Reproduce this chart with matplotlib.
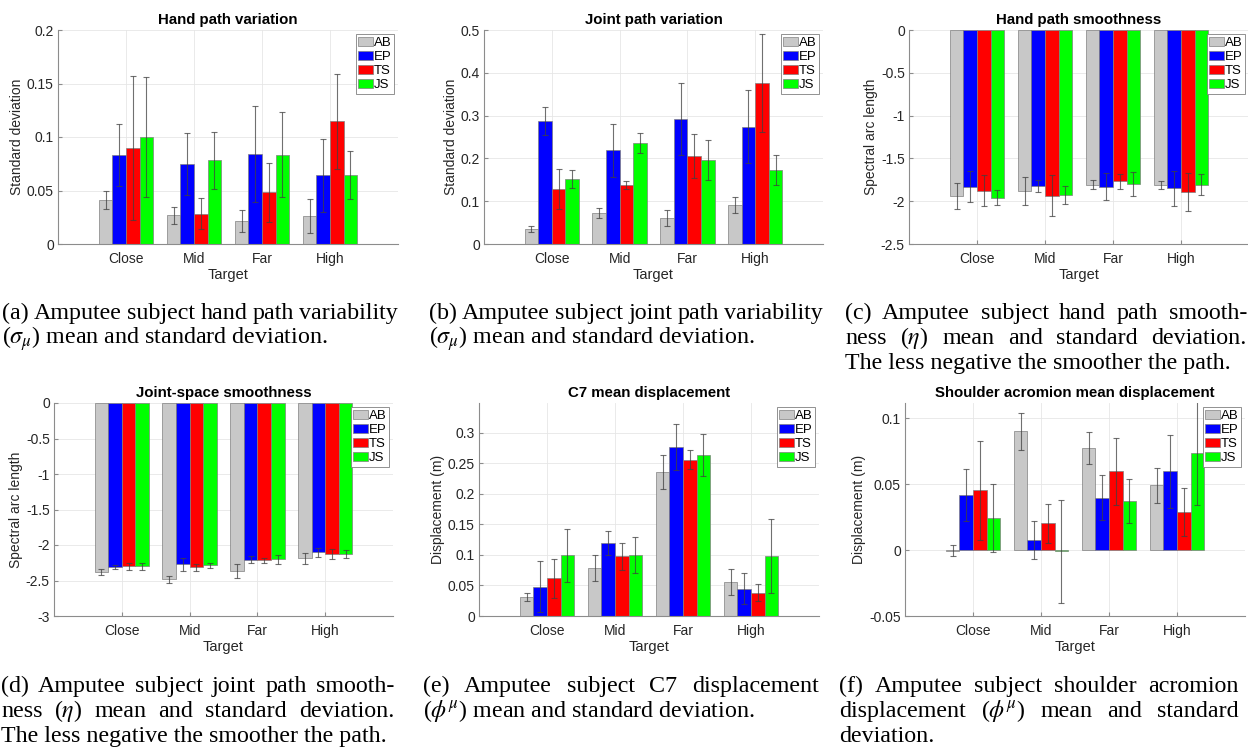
import matplotlib
matplotlib.use("Agg")
import matplotlib.pyplot as plt
import numpy as np
from matplotlib.patches import Patch
from matplotlib.ticker import FormatStrFormatter

W, H = 1248, 748

targets = ["Close", "Mid", "Far", "High"]
series = ["AB", "EP", "TS", "JS"]
colors = ["#c8c8c8", "#0000ff", "#ff0000", "#00ff00"]

# (a) hand path variation, rows = AB, EP, TS, JS
hand_var_mean = [[0.041, 0.0267, 0.0218, 0.0261],
                 [0.083, 0.0747, 0.0843, 0.0641],
                 [0.0896, 0.0283, 0.0485, 0.1148],
                 [0.0998, 0.0784, 0.0834, 0.0644]]
hand_var_std = [[0.0085, 0.008, 0.0104, 0.016],
                [0.029, 0.029, 0.045, 0.034],
                [0.067, 0.0143, 0.0275, 0.0443],
                [0.056, 0.0266, 0.0395, 0.0224]]

# (b) joint path variation
joint_var_mean = [[0.0358, 0.0723, 0.0614, 0.0918],
                  [0.287, 0.2185, 0.2916, 0.2745],
                  [0.129, 0.1376, 0.206, 0.3756],
                  [0.152, 0.2356, 0.196, 0.1726]]
joint_var_std = [[0.0074, 0.011, 0.019, 0.019],
                 [0.033, 0.061, 0.084, 0.086],
                 [0.047, 0.009, 0.051, 0.115],
                 [0.022, 0.024, 0.047, 0.035]]

# (c) hand path smoothness
hand_smooth_mean = [[-1.938, -1.880, -1.81, -1.81],
                    [-1.829, -1.821, -1.829, -1.849],
                    [-1.876, -1.938, -1.767, -1.892],
                    [-1.962, -1.927, -1.798, -1.806]]
hand_smooth_std = [[0.156, 0.16, 0.053, 0.048],
                   [0.185, 0.072, 0.156, 0.203],
                   [0.18, 0.24, 0.09, 0.218],
                   [0.088, 0.107, 0.137, 0.123]]

# (d) joint-space smoothness
joint_smooth_mean = [[-2.386, -2.48, -2.363, -2.189],
                     [-2.311, -2.274, -2.208, -2.105],
                     [-2.297, -2.316, -2.218, -2.128],
                     [-2.302, -2.283, -2.203, -2.128]]
joint_smooth_std = [[0.042, 0.05, 0.096, 0.073],
                    [0.03, 0.089, 0.05, 0.068],
                    [0.05, 0.047, 0.033, 0.075],
                    [0.045, 0.036, 0.063, 0.059]]

# (e) C7 mean displacement
c7_mean = [[0.0311, 0.0787, 0.236, 0.0557],
           [0.0481, 0.1191, 0.277, 0.0443],
           [0.0617, 0.0978, 0.2563, 0.0383],
           [0.0995, 0.100, 0.264, 0.0978]]
c7_std = [[0.0066, 0.021, 0.0276, 0.0216],
          [0.042, 0.0197, 0.038, 0.0254],
          [0.0317, 0.0224, 0.0155, 0.0145],
          [0.043, 0.0295, 0.035, 0.0607]]

# (f) shoulder acromion mean displacement
acr_mean = [[-0.0003, 0.0901, 0.0775, 0.0494],
            [0.0418, 0.0076, 0.0397, 0.060],
            [0.0453, 0.0203, 0.0597, 0.0289],
            [0.0243, -0.0008, 0.0375, 0.0734]]
acr_std = [[0.0043, 0.0138, 0.012, 0.0133],
           [0.020, 0.0146, 0.017, 0.0277],
           [0.0378, 0.0146, 0.0257, 0.018],
           [0.0258, 0.039, 0.0167, 0.0395]]

SANS = "Liberation Sans"
SERIF = "Liberation Serif"
plt.rcParams["mathtext.fontset"] = "stix"


def px_axes(fig, l, r, t, b):
    return fig.add_axes([l / W, 1 - b / H, (r - l) / W, (b - t) / H])


def panel(ax, title, ylabel, means, stds, ylim, yticks):
    x = np.arange(1, len(targets) + 1)
    bw = 0.2
    for i, s in enumerate(series):
        xs = x + (i - 1.5) * bw
        ax.bar(xs, means[i], bw, color=colors[i], edgecolor="#808080",
               lw=0.5, label=s, zorder=2)
        ax.errorbar(xs, means[i], yerr=stds[i], fmt="none", ecolor="#404040",
                    elinewidth=0.8, capsize=2, capthick=0.8, alpha=0.75, zorder=3)
    ax.set_xlim(0, 5)
    ax.set_ylim(*ylim)
    ax.set_yticks(yticks)
    ax.yaxis.set_major_formatter(FormatStrFormatter("%g"))
    ax.set_xticks(x)
    ax.set_xticklabels(targets)
    ax.grid(True, color="#e6e6e6", lw=0.6, zorder=0)
    ax.set_axisbelow(True)
    for sp in ("top", "right"):
        ax.spines[sp].set_visible(False)
    for sp in ("left", "bottom"):
        ax.spines[sp].set_color("#8c8c8c")
        ax.spines[sp].set_linewidth(0.8)
    ax.tick_params(direction="in", length=3, color="#8c8c8c", labelsize=10,
                   labelcolor="#262626", pad=3)
    ax.tick_params(axis="x", pad=6)
    for lab in ax.get_xticklabels() + ax.get_yticklabels():
        lab.set_family(SANS)
    ax.set_title(title, fontsize=10.8, fontweight="bold", family=SANS, pad=4)
    ax.set_xlabel("Target", fontsize=10.5, family=SANS, color="#262626", labelpad=1)
    ax.set_ylabel(ylabel, fontsize=10, family=SANS, color="#262626", labelpad=2)
    handles = [Patch(facecolor=c, edgecolor="#808080", lw=0.5) for c in colors]
    leg = ax.legend(handles, series, loc="upper right",
                    prop={"family": SANS, "size": 9.5}, fancybox=False,
                    handlelength=1.1, handleheight=0.75, handletextpad=0.05,
                    labelspacing=0.12, borderpad=0.2, borderaxespad=0.3,
                    framealpha=1)
    leg.get_frame().set_edgecolor("#808080")
    leg.get_frame().set_linewidth(0.6)


def caption(fig, x0, x1, y, lines, size=17.3):
    # justified caption lines, last line left-aligned
    r = fig.canvas.get_renderer()
    for k, line in enumerate(lines):
        yy = 1 - (y + 25 * k) / H
        words = line.split(" ")
        if k == len(lines) - 1 or len(words) == 1:
            fig.text(x0 / W, yy, line, family=SERIF, fontsize=size, va="baseline")
            continue
        objs = [fig.text(0, yy, w_, family=SERIF, fontsize=size, va="baseline")
                for w_ in words]
        widths = [o.get_window_extent(r).width for o in objs]
        gap = (x1 - x0 - sum(widths)) / (len(words) - 1)
        pos = x0
        for o, wd in zip(objs, widths):
            o.set_x(pos / W)
            pos += wd + gap


fig = plt.figure(figsize=(W / 100, H / 100), dpi=100)

ax = px_axes(fig, 58, 398, 30, 244)
panel(ax, "Hand path variation", "Standard deviation", hand_var_mean,
      hand_var_std, (0, 0.2), [0, 0.05, 0.1, 0.15, 0.2])
ax = px_axes(fig, 484, 823, 30, 244)
panel(ax, "Joint path variation", "Standard deviation", joint_var_mean,
      joint_var_std, (0, 0.5), [0, 0.1, 0.2, 0.3, 0.4, 0.5])
ax = px_axes(fig, 909, 1249, 30, 244)
panel(ax, "Hand path smoothness", "Spectral arc length", hand_smooth_mean,
      hand_smooth_std, (-2.5, 0), [-2.5, -2, -1.5, -1, -0.5, 0])
ax = px_axes(fig, 54, 393, 403, 616)
panel(ax, "Joint-space smoothness", "Spectral arc length", joint_smooth_mean,
      joint_smooth_std, (-3, 0), [-3, -2.5, -2, -1.5, -1, -0.5, 0])
ax = px_axes(fig, 479, 819, 403, 616)
panel(ax, "C7 mean displacement", "Displacement (m)", c7_mean, c7_std,
      (0, 0.349), [0, 0.05, 0.1, 0.15, 0.2, 0.25, 0.3])
ax = px_axes(fig, 905, 1245, 403, 616)
panel(ax, "Shoulder acromion mean displacement", "Displacement (m)", acr_mean,
      acr_std, (-0.05, 0.1117), [-0.05, 0, 0.05, 0.1])

caption(fig, 2, 398, 319, ["(a) Amputee subject hand path variability",
                           r"($\sigma_\mu$) mean and standard deviation."])
caption(fig, 429, 823, 319, ["(b) Amputee subject joint path variability",
                             r"($\sigma_\mu$) mean and standard deviation."])
caption(fig, 845, 1247, 319, ["(c) Amputee subject hand path smooth-",
                              r"ness ($\eta$) mean and standard deviation.",
                              "The less negative the smoother the path."])
caption(fig, 1, 394, 692, ["(d) Amputee subject joint path smooth-",
                           r"ness ($\eta$) mean and standard deviation.",
                           "The less negative the smoother the path."])
caption(fig, 423, 819, 692, ["(e) Amputee subject C7 displacement",
                             r"($\phi^\mu$) mean and standard deviation."])
caption(fig, 839, 1239, 692, ["(f) Amputee subject shoulder acromion",
                              r"displacement ($\phi^\mu$) mean and standard",
                              "deviation."])

fig.savefig("out.png", dpi=100, facecolor="white")
